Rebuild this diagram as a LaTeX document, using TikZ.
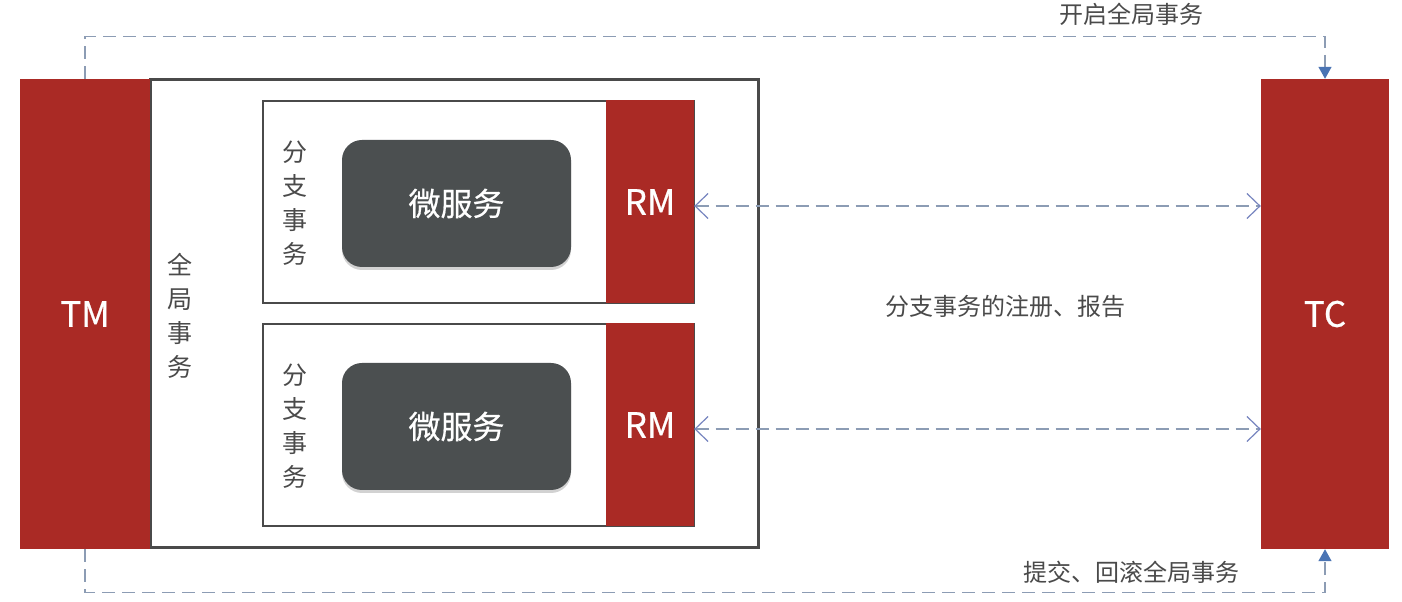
\documentclass[tikz,border=0pt]{standalone}
\usepackage{fontspec}
\setmainfont{Noto Sans CJK SC}
\newfontfamily\medfont{Noto Sans CJK SC}[FakeBold=0.6]
\usetikzlibrary{arrows.meta,shadows}
\definecolor{redbox}{HTML}{AA2A25}
\definecolor{darkbox}{HTML}{4B4F50}
\definecolor{dashc}{HTML}{8C9CB4}
\definecolor{headc}{HTML}{4A74B4}
\definecolor{txt}{HTML}{4A4A4A}
\begin{document}
\begin{tikzpicture}[x=1pt,y=1pt,
  redpart/.style={fill=redbox,draw=none,inner sep=0,text=white,font=\medfont\fontsize{35}{40}\selectfont},
  branchbox/.style={draw=txt,line width=1.6pt,fill=white,inner sep=0},
  microbox/.style={fill=darkbox,draw=none,rounded corners=20pt,inner sep=0,text=white,
    font=\medfont\fontsize{32}{38}\selectfont,minimum width=229pt,minimum height=127pt,
    drop shadow={opacity=0.35,shadow xshift=0pt,shadow yshift=-3pt}},
  vtext/.style={text=txt,font=\fontsize{25}{34}\selectfont,align=center,inner sep=0},
  lbl/.style={text=txt,font=\fontsize{24}{28}\selectfont,inner sep=0},
  dashline/.style={draw=dashc,line width=1.3pt,dash pattern=on 13pt off 7pt},
  syncarrow/.style={dashline,{Straight Barb[length=13pt,width=25pt,line width=1.2pt,color=dashc!85!blue]}-{Straight Barb[length=13pt,width=25pt,line width=1.2pt,color=dashc!85!blue]}},
  callarrow/.style={dashline,-{Triangle[length=12pt,width=13pt,color=headc]}}]
\useasboundingbox (0,0) rectangle (1402,602);
\fill[white] (0,0) rectangle (1402,602);
% outer global transaction box
\node[draw=txt,line width=3pt,minimum width=608pt,minimum height=468pt,inner sep=0] (outer) at (454,288) {};
% TM and TC
\node[redpart,minimum width=130pt,minimum height=470pt] (TM) at (85,288) {TM};
\node[redpart,minimum width=128pt,minimum height=470pt] (TC) at (1325,288) {TC};
% branch boxes
\node[branchbox,minimum width=431pt,minimum height=202pt] (B1) at (478.5,400) {};
\node[branchbox,minimum width=431pt,minimum height=202pt] (B2) at (478.5,177) {};
\node[redpart,minimum width=88pt,minimum height=203pt] (RM1) at (650,400) {RM};
\node[redpart,minimum width=88pt,minimum height=203pt] (RM2) at (650,177) {RM};
% micro services
\node[microbox] (MS1) at (456.5,398.5) {微服务};
\node[microbox] (MS2) at (456.5,175.5) {微服务};
% vertical texts
\node[vtext] (BT1) at (295,399) {分\\支\\事\\务};
\node[vtext] (BT2) at (295,176) {分\\支\\事\\务};
\node[vtext] (GT) at (180,286) {全\\局\\事\\务};
% labels
\node[lbl] (L1) at (1131,588) {开启全局事务};
\node[lbl] (L2) at (1131,30) {提交、回滚全局事务};
\node[lbl] (L3) at (1005,296) {分支事务的注册、报告};
% connectors
\draw[callarrow] (TM.north) -- ++(0,42) -| (TC.north);
\draw[callarrow] (TM.south) -- ++(0,-43) -| (TC.south);
\draw[syncarrow] ([yshift=-4pt]RM1.east) -- ([yshift=-4pt]RM1.east -| TC.west);
\draw[syncarrow] ([yshift=-4pt]RM2.east) -- ([yshift=-4pt]RM2.east -| TC.west);
\end{tikzpicture}
\end{document}
